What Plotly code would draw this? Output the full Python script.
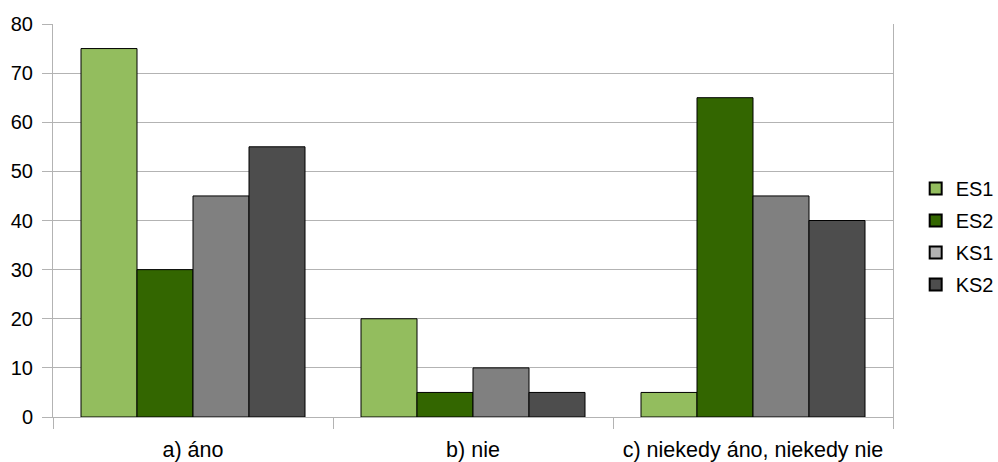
import plotly.graph_objects as go

categories = ["a) áno", "b) nie", "c) niekedy áno, niekedy nie"]
series_names = ["ES1", "ES2", "KS1", "KS2"]
es1 = [75, 20, 5]
es2 = [30, 5, 65]
ks1 = [45, 10, 45]
ks2 = [55, 5, 40]
values = [es1, es2, ks1, ks2]

bar_colors = ["#93bd5e", "#336600", "#808080", "#4d4d4d"]
legend_colors = ["#93bd5e", "#336600", "#b3b3b3", "#4d4d4d"]

font_family = "Liberation Sans, Arial, sans-serif"

fig = go.Figure()
for name, vals, col in zip(series_names, values, bar_colors):
    fig.add_trace(go.Bar(
        x=categories, y=vals, name=name, showlegend=False,
        marker=dict(color=col, line=dict(color="#000000", width=1)),
    ))

# legend entries drawn as square swatches, one group each for spacing
for name, col in zip(series_names, legend_colors):
    fig.add_trace(go.Scatter(
        x=[None], y=[None], mode="markers", name=name, legendgroup=name,
        marker=dict(symbol="square", size=16, color=col,
                    line=dict(color="#000000", width=1)),
    ))

fig.update_layout(
    width=998, height=462,
    margin=dict(l=53, r=105, t=24, b=45, autoexpand=False),
    paper_bgcolor="white", plot_bgcolor="white",
    barmode="group", bargap=0.2, bargroupgap=0,
    font=dict(family=font_family, size=20, color="#000000"),
    legend=dict(x=1.027, y=0.459, yanchor="middle", xanchor="left",
                font=dict(size=20), itemsizing="constant",
                tracegroupgap=3, itemwidth=30),
    xaxis=dict(
        showline=True, linecolor="#b3b3b3", linewidth=1,
        ticks="outside", tickson="boundaries", ticklen=11,
        tickcolor="#b3b3b3", showgrid=False,
        tickfont=dict(size=21.5), ticklabelstandoff=13,
    ),
    yaxis=dict(
        range=[0, 80], dtick=10,
        showline=True, linecolor="#b3b3b3", linewidth=1, mirror=True,
        ticks="outside", ticklen=10, tickcolor="#b3b3b3",
        showgrid=True, gridcolor="#b3b3b3", gridwidth=1,
        zeroline=False, tickfont=dict(size=20), ticklabelstandoff=5,
    ),
)

fig.write_html("out.html")
